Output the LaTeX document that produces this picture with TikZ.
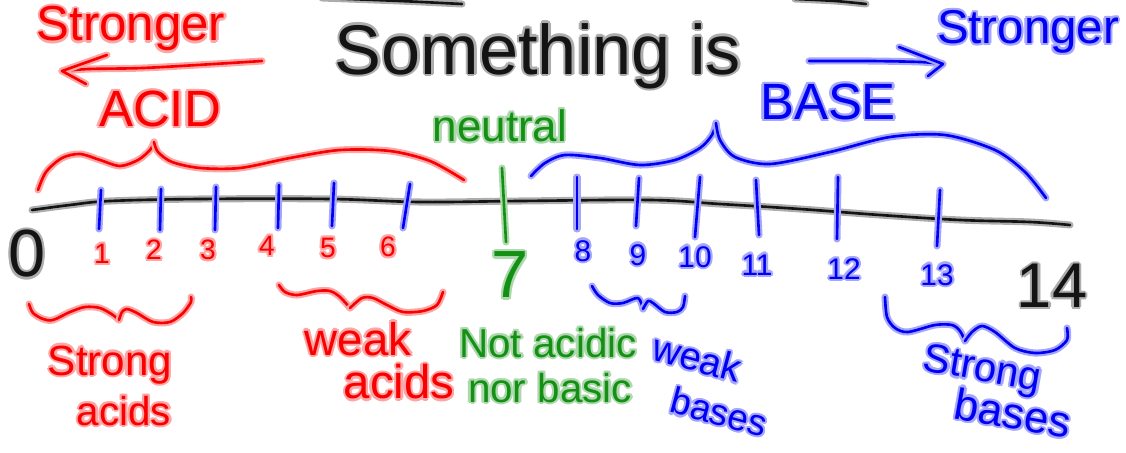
\documentclass[tikz,border=0pt]{standalone}
\usepackage{fontspec}
\setmainfont{Liberation Sans}
\usepackage{contour}
\contourlength{1.3pt}
\contournumber{8}
\definecolor{inkred}{RGB}{250,0,0}
\definecolor{inkblue}{RGB}{0,0,245}
\definecolor{inkgreen}{RGB}{20,145,20}
\definecolor{inkblack}{RGB}{20,20,20}
% coloured pen text with a soft glow
\newcommand\inked[2]{\contour{#1!35}{\textcolor{#1}{#2}}}

\begin{document}
\begin{tikzpicture}[x=0.02cm,y=-0.02cm,
  ink/.style={draw=#1, line width=1.5pt, line cap=round, line join=round,
    preaction={draw=#1!35, line width=4pt, line cap=round, line join=round}},
  txt/.style={inner sep=0pt, font=\fontsize{#1pt}{#1pt}\selectfont}]
\useasboundingbox (0,0) rectangle (1126,453);

% stray strokes at the top edge
\draw[ink=inkblack] plot[smooth] coordinates {(322,-2) (400,1) (462,4)};
\draw[ink=inkblack] plot[smooth] coordinates {(795,-1) (835,1) (866,4)};

% title and direction arrows
\node[txt=40] (title) at (538,57) {\inked{inkblack}{Something is}};
\node[txt=28] (strongacid) at (131,30) {\inked{inkred}{Stronger}};
\node[txt=27] (strongbase) at (1028,33) {\inked{inkblue}{Stronger}};
\draw[ink=inkred] plot[smooth] coordinates {(262,61) (214,64) (143,68) (89,69) (62,71)};
\draw[ink=inkred] (107,55) -- (62,71) -- (86,84);
\draw[ink=inkblue] plot[smooth] coordinates {(809,61) (870,61) (920,62) (943,64)};
\draw[ink=inkblue] (899,47) -- (943,64) -- (928,76);

% region names
\node[txt=29] (acid) at (160,110) {\inked{inkred}{ACID}};
\node[txt=29] (base) at (828,103) {\inked{inkblue}{BASE}};
\node[txt=25] (neutral) at (500,127) {\inked{inkgreen}{neutral}};

% braces over the scale
\draw[ink=inkred] plot[smooth] coordinates {(38,190) (46,172) (62,158) (80,154) (100,160) (120,166) (138,160) (150,150) (154,142)};
\draw[ink=inkred] plot[smooth] coordinates {(154,142) (158,152) (172,162) (200,168) (240,168) (290,158) (340,150) (390,151) (430,161) (464,180)};
\draw[ink=inkblue] plot[smooth] coordinates {(531,176) (545,163) (565,155) (600,158) (640,165) (675,160) (700,148) (712,135) (716,123)};
\draw[ink=inkblue] plot[smooth] coordinates {(716,123) (720,140) (735,157) (770,164) (830,152) (890,137) (945,135) (995,150) (1025,172) (1046,198)};

% the scale line
\draw[ink=inkblack] plot[smooth, tension=0.6] coordinates {(32,210) (70,205) (110,201) (200,199) (330,199) (420,202) (520,201) (650,200) (720,204) (800,209) (880,215) (960,220) (1030,222) (1070,225)};

% tick marks
\foreach \xa/\ya/\xb/\yb in {101/190/99/229, 161/189/160/230, 216/187/215/230, 279/185/278/228, 334/183/332/226, 410/184/403/228,
  577/177/577/229, 639/178/636/226, 700/177/695/237, 756/180/759/235, 838/177/837/239, 940/190/937/246}
  \draw[ink=inkblue] (\xa,\ya) -- (\xb,\yb);
\draw[ink=inkgreen] (502,168) -- (506,242);

% pH values
\node[txt=38] (p0) at (27,255) {\inked{inkblack}{0}};
\foreach \n/\x/\y in {1/102/255, 2/154/251, 3/208/251, 4/267/247, 5/328/249, 6/388/248}
  \node[txt=16] (p\n) at (\x,\y) {\inked{inkred}{\n}};
\node[txt=38] (p7) at (510,276) {\inked{inkgreen}{7}};
\foreach \n/\x/\y in {8/583/252, 9/638/256, 10/695/258, 11/757/266, 12/844/270, 13/937/276}
  \node[txt=17] (p\n) at (\x,\y) {\inked{inkblue}{\n}};
\node[txt=36] (p14) at (1052,287) {\inked{inkblack}{14}};

% braces under the scale
\draw[ink=inkred] plot[smooth] coordinates {(29,304) (33,313) (43,319) (53,320) (70,312) (85,307) (100,308) (113,315) (119,320)};
\draw[ink=inkred] plot[smooth] coordinates {(119,320) (122,312) (127,309) (137,313) (153,322) (170,322) (183,313) (191,302) (191,297)};
\draw[ink=inkred] plot[smooth] coordinates {(279,285) (285,292) (297,295) (317,291) (330,291) (340,297) (350,308)};
\draw[ink=inkred] plot[smooth] coordinates {(350,308) (362,298) (373,298) (387,305) (403,312) (423,311) (437,305) (443,292)};
\draw[ink=inkblue] plot[smooth] coordinates {(592,286) (598,295) (610,303) (623,303) (638,298) (643,309)};
\draw[ink=inkblue] plot[smooth] coordinates {(643,309) (648,301) (653,303) (665,312) (677,312) (683,307) (685,296)};
\draw[ink=inkblue] plot[smooth] coordinates {(885,297) (887,317) (895,328) (908,332) (935,325) (952,325) (960,331) (965,341)};
\draw[ink=inkblue] plot[smooth] coordinates {(965,341) (972,332) (982,326) (995,332) (1015,348) (1035,353) (1055,350) (1067,340) (1067,328)};

% group labels
\node[txt=24] (sa1) at (110,366) {\inked{inkred}{Strong}};
\node[txt=23] (sa2) at (124,412) {\inked{inkred}{acids}};
\node[txt=26] (wa1) at (358,340) {\inked{inkred}{weak}};
\node[txt=27] (wa2) at (399,383) {\inked{inkred}{acids}};
\node[txt=23] (na1) at (548,344) {\inked{inkgreen}{Not acidic}};
\node[txt=23] (na2) at (550,389) {\inked{inkgreen}{nor basic}};
\node[txt=22, rotate=-15] (wb1) at (697,359) {\inked{inkblue}{weak}};
\node[txt=21, rotate=-15] (wb2) at (719,413) {\inked{inkblue}{bases}};
\node[txt=23, rotate=-10] (sb1) at (982,372) {\inked{inkblue}{Strong}};
\node[txt=25, rotate=-10] (sb2) at (1013,414) {\inked{inkblue}{bases}};
\end{tikzpicture}
\end{document}
